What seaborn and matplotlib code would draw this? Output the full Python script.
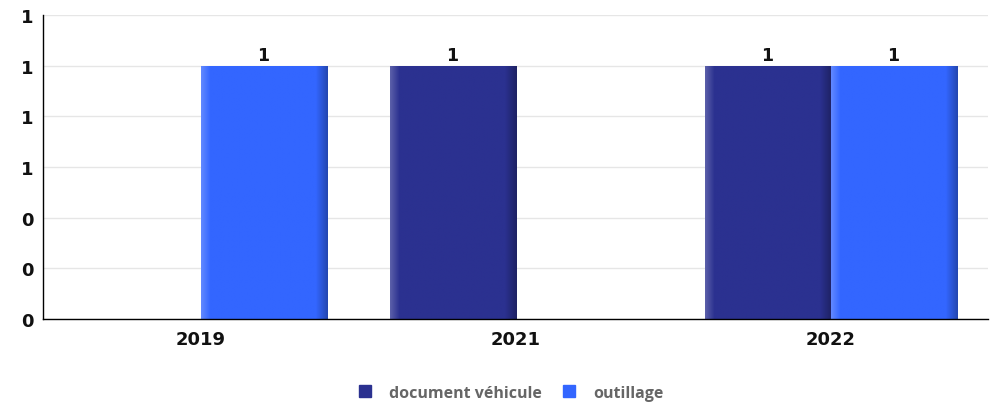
import numpy as np
import pandas as pd
import matplotlib
matplotlib.use("Agg")
import matplotlib.pyplot as plt
from matplotlib.ticker import FormatStrFormatter, FixedLocator
from matplotlib.colors import to_rgb
import seaborn as sns

years = ["2019", "2021", "2022"]
series = ["document véhicule", "outillage"]
colors = ["#2B3190", "#3366FF"]

# only the bars that exist in the chart
bar_years = ["2019", "2021", "2022", "2022"]
bar_series = ["outillage", "document véhicule", "document véhicule", "outillage"]
bar_values = [1, 1, 1, 1]

y_ticks = [0, 0.2, 0.4, 0.6, 0.8, 1.0, 1.2]

df = pd.DataFrame({"year": bar_years, "serie": bar_series, "value": bar_values})

sns.set_style("white")
plt.rcParams['font.family'] = ['DejaVu Sans']

fig = plt.figure(figsize=(9.98, 4.06), dpi=100)
ax = fig.add_axes([0.0431, 0.2118, 0.9469, 0.7488])

sns.barplot(data=df, x="year", y="value", hue="serie", order=years,
            hue_order=series, palette=colors, width=0.8, dodge=True,
            saturation=1, legend=False, ax=ax)


def shade(rgb, f):
    rgb = np.array(rgb)
    if f >= 0:
        return rgb + (1 - rgb) * f
    return rgb * (1 + f)


# soft bevel look: light left edge, dark right edge
prof = np.ones(100) * 0.0
prof[:8] = np.linspace(0.22, 0.0, 8)
prof[-10:] = np.linspace(0.0, -0.3, 10)
for cont in ax.containers:
    for p in cont.patches:
        if np.isnan(p.get_height()) or p.get_height() == 0:
            continue
        base = to_rgb(p.get_facecolor())
        img = np.array([[shade(base, f) for f in prof]])
        x0, w, h = p.get_x(), p.get_width(), p.get_height()
        im = ax.imshow(img, extent=[x0, x0 + w, 0, h], aspect="auto",
                       interpolation="bilinear", zorder=p.get_zorder() + 0.1)
        im.set_clip_path(p)
        p.set_edgecolor("white")
        p.set_linewidth(0.6)
    ax.bar_label(cont, fmt="%.0f", padding=1, fontsize=12.5,
                 fontweight="bold", color="#111111")

ax.set_xlim(-0.5, len(years) - 0.5)
ax.set_ylim(0, 1.2)
ax.set_yticks(y_ticks)
ax.yaxis.set_major_formatter(FormatStrFormatter("%.0f"))
ax.grid(axis="y", color="#e6e6e6", linewidth=1)
ax.set_axisbelow(True)

ax.xaxis.set_minor_locator(FixedLocator([i + 0.5 for i in range(len(years))]))
ax.tick_params(axis="x", which="major", length=0, pad=8)
ax.tick_params(axis="x", which="minor", length=5, width=1, color="black", direction="out")
ax.tick_params(axis="y", length=4, width=1, color="black", direction="out", pad=3)
for lab in ax.get_xticklabels() + ax.get_yticklabels():
    lab.set_fontsize(13)
    lab.set_fontweight("bold")
    lab.set_color("#111111")

for s in ["top", "right"]:
    ax.spines[s].set_visible(False)
for s in ["left", "bottom"]:
    ax.spines[s].set_color("black")
    ax.spines[s].set_linewidth(1)

ax.set_xlabel("")
ax.set_ylabel("")

handles = [plt.Line2D([], [], marker="s", linestyle="", markersize=8,
                      markerfacecolor=c, markeredgecolor=c) for c in colors]
fig.legend(handles, series, loc="center", bbox_to_anchor=(0.507, 0.03), ncol=2,
           frameon=False, handletextpad=0.5, columnspacing=0.7,
           prop={"family": "Open Sans", "size": 11.5, "weight": "bold"},
           labelcolor="#666666")

fig.savefig("out.png", dpi=100)
